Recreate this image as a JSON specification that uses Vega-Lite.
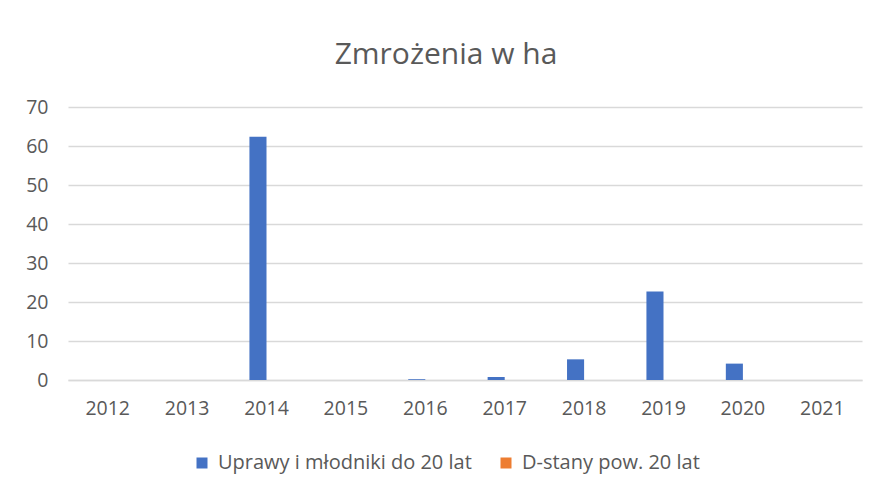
{
  "$schema": "https://vega.github.io/schema/vega-lite/v6.json",
  "autosize": {"type": "none"},
  "width": 794,
  "height": 273,
  "padding": {"left": 68, "top": 107, "right": 15, "bottom": 111},
  "background": "white",
  "title": {
    "text": "Zmrożenia w ha",
    "anchor": "middle",
    "fontSize": 30,
    "font": "Open Sans",
    "fontWeight": "normal",
    "color": "#595959",
    "offset": 27,
    "dx": -19
  },
  "data": {
    "values": [
      {"rok": "2012", "seria": "Uprawy i młodniki do 20 lat", "ha": 0},
      {"rok": "2012", "seria": "D-stany pow. 20 lat", "ha": 0},
      {"rok": "2013", "seria": "Uprawy i młodniki do 20 lat", "ha": 0},
      {"rok": "2013", "seria": "D-stany pow. 20 lat", "ha": 0},
      {"rok": "2014", "seria": "Uprawy i młodniki do 20 lat", "ha": 62.4},
      {"rok": "2014", "seria": "D-stany pow. 20 lat", "ha": 0},
      {"rok": "2015", "seria": "Uprawy i młodniki do 20 lat", "ha": 0},
      {"rok": "2015", "seria": "D-stany pow. 20 lat", "ha": 0},
      {"rok": "2016", "seria": "Uprawy i młodniki do 20 lat", "ha": 0.2},
      {"rok": "2016", "seria": "D-stany pow. 20 lat", "ha": 0},
      {"rok": "2017", "seria": "Uprawy i młodniki do 20 lat", "ha": 0.8},
      {"rok": "2017", "seria": "D-stany pow. 20 lat", "ha": 0},
      {"rok": "2018", "seria": "Uprawy i młodniki do 20 lat", "ha": 5.3},
      {"rok": "2018", "seria": "D-stany pow. 20 lat", "ha": 0},
      {"rok": "2019", "seria": "Uprawy i młodniki do 20 lat", "ha": 22.7},
      {"rok": "2019", "seria": "D-stany pow. 20 lat", "ha": 0},
      {"rok": "2020", "seria": "Uprawy i młodniki do 20 lat", "ha": 4.2},
      {"rok": "2020", "seria": "D-stany pow. 20 lat", "ha": 0},
      {"rok": "2021", "seria": "Uprawy i młodniki do 20 lat", "ha": 0},
      {"rok": "2021", "seria": "D-stany pow. 20 lat", "ha": 0}
    ]
  },
  "mark": {"type": "bar"},
  "encoding": {
    "x": {
      "field": "rok",
      "type": "nominal",
      "title": null,
      "scale": {"paddingInner": 0.57, "paddingOuter": 0.285},
      "axis": {
        "labelAngle": 0,
        "labelFont": "Open Sans",
        "labelFontSize": 19.5,
        "labelColor": "#595959",
        "labelPadding": 19,
        "ticks": false,
        "domainColor": "#D9D9D9",
        "domainWidth": 1.5
      }
    },
    "xOffset": {
      "field": "seria",
      "type": "nominal",
      "sort": ["Uprawy i młodniki do 20 lat", "D-stany pow. 20 lat"]
    },
    "y": {
      "field": "ha",
      "type": "quantitative",
      "title": null,
      "scale": {"domain": [0, 70]},
      "axis": {
        "values": [0, 10, 20, 30, 40, 50, 60, 70],
        "labelFont": "Open Sans",
        "labelFontSize": 19.5,
        "labelColor": "#595959",
        "labelPadding": 20,
        "ticks": false,
        "domain": false,
        "gridColor": "#D9D9D9",
        "gridWidth": 1.5
      }
    },
    "color": {
      "field": "seria",
      "type": "nominal",
      "sort": ["Uprawy i młodniki do 20 lat", "D-stany pow. 20 lat"],
      "scale": {
        "domain": ["Uprawy i młodniki do 20 lat", "D-stany pow. 20 lat"],
        "range": ["#4472C4", "#ED7D31"]
      },
      "legend": {
        "orient": "none",
        "legendX": 124,
        "legendY": 346,
        "direction": "horizontal",
        "title": null,
        "symbolType": "square",
        "symbolSize": 121,
        "symbolStrokeWidth": 0,
        "labelFont": "Open Sans",
        "labelFontSize": 20,
        "labelColor": "#595959",
        "labelLimit": 400,
        "labelOffset": 6,
        "columnPadding": 24
      }
    }
  },
  "config": {
    "view": {"stroke": null}
  }
}
